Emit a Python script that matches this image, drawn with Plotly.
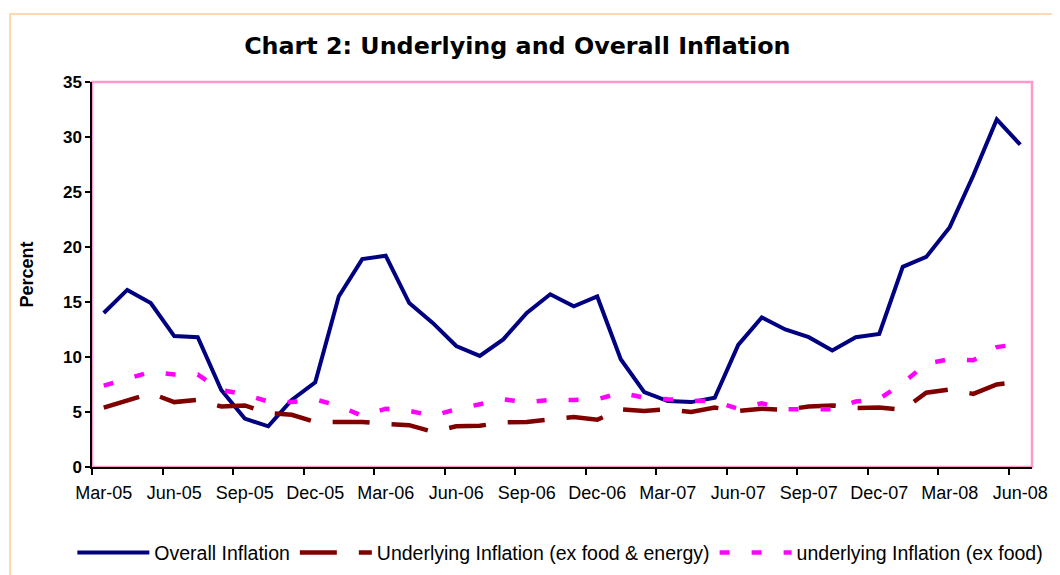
import plotly.graph_objects as go

months = ["Mar-05", "Apr-05", "May-05", "Jun-05", "Jul-05", "Aug-05", "Sep-05", "Oct-05", "Nov-05", "Dec-05",
          "Jan-06", "Feb-06", "Mar-06", "Apr-06", "May-06", "Jun-06", "Jul-06", "Aug-06", "Sep-06", "Oct-06",
          "Nov-06", "Dec-06", "Jan-07", "Feb-07", "Mar-07", "Apr-07", "May-07", "Jun-07", "Jul-07", "Aug-07",
          "Sep-07", "Oct-07", "Nov-07", "Dec-07", "Jan-08", "Feb-08", "Mar-08", "Apr-08", "May-08", "Jun-08"]

overall = [14.0, 16.1, 14.9, 11.9, 11.8, 7.0, 4.4, 3.7, 6.1, 7.7,
           15.5, 18.9, 19.2, 14.9, 13.1, 11.0, 10.1, 11.6, 14.0, 15.7,
           14.6, 15.5, 9.8, 6.8, 6.0, 5.9, 6.3, 11.1, 13.6, 12.5,
           11.8, 10.6, 11.8, 12.1, 18.2, 19.1, 21.8, 26.5, 31.6, 29.3]

underlying_ex_food_energy = [5.4, 6.1, 6.7, 5.9, 6.1, 5.5, 5.6, 4.9, 4.75, 4.1,
                             4.1, 4.1, 3.9, 3.8, 3.2, 3.7, 3.75, 4.05, 4.1, 4.3,
                             4.55, 4.3, 5.25, 5.1, 5.25, 5.0, 5.4, 5.1, 5.3, 5.2,
                             5.5, 5.6, 5.35, 5.4, 5.2, 6.75, 7.05, 6.65, 7.5, 7.75]

underlying_ex_food = [7.4, 8.0, 8.65, 8.4, 8.4, 7.0, 6.6, 5.95, 5.9, 6.15,
                      5.55, 4.65, 5.3, 5.1, 4.65, 5.25, 5.7, 6.15, 5.9, 6.1,
                      6.1, 6.15, 6.75, 6.3, 6.15, 6.1, 5.95, 5.3, 5.8, 5.25,
                      5.25, 5.25, 5.95, 6.2, 7.6, 9.4, 9.8, 9.7, 10.9, 11.2]

series_names = ["Overall Inflation",
                "Underlying Inflation (ex food & energy)",
                "underlying Inflation (ex food)"]

title_text = "Chart 2: Underlying and Overall Inflation"
y_title = "Percent"

idx = list(range(len(months)))
label_idx = idx[::3]
label_text = [months[i] for i in label_idx]
boundary_ticks = [i - 0.5 for i in label_idx]

fig = go.Figure()
fig.add_trace(go.Scatter(x=idx, y=overall, mode="lines", name=series_names[0],
                         line=dict(color="#000080", width=4)))
fig.add_trace(go.Scatter(x=idx, y=underlying_ex_food_energy, mode="lines", name=series_names[1],
                         line=dict(color="#800000", width=4.5, dash="37px,22px")))
fig.add_trace(go.Scatter(x=idx, y=underlying_ex_food, mode="lines", name=series_names[2],
                         line=dict(color="#FF00FF", width=4.5, dash="10px,22px")))

fig.update_layout(
    width=1060, height=575,
    margin=dict(l=84, r=36, t=74, b=116, autoexpand=False),
    paper_bgcolor="white", plot_bgcolor="white",
    title=dict(text="<b>" + title_text + "</b>", x=0.4805, xanchor="center", y=0.935, yanchor="middle",
               font=dict(family="DejaVu Sans", size=23.8, color="black")),
    showlegend=True,
    legend=dict(orientation="h", x=-0.0209, xanchor="left", y=-0.223, yanchor="middle",
                font=dict(family="Liberation Sans, Arial", size=19.5, color="black"),
                itemwidth=72, bgcolor="rgba(0,0,0,0)", traceorder="normal"),
    xaxis=dict(range=[-0.5, len(months) - 0.5], tickmode="array", tickvals=label_idx, ticktext=label_text,
               ticks="outside", ticklen=9, tickcolor="rgba(0,0,0,0)", automargin=False,
               showline=True, linecolor="black", linewidth=1.5, showgrid=False, zeroline=False,
               tickfont=dict(family="Liberation Sans, Arial", size=18, color="black"),
               minor=dict(tickmode="array", tickvals=boundary_ticks, ticks="outside", ticklen=6,
                          tickcolor="black", tickwidth=1.5, showgrid=False)),
    yaxis=dict(range=[0, 35], dtick=5, ticks="outside", ticklen=5, tickcolor="black", tickwidth=1.5,
               automargin=False,
               showline=True, linecolor="black", linewidth=1.5, showgrid=False, zeroline=False,
               tickfont=dict(family="Liberation Sans, Arial", size=17, color="black", weight="bold"),
               title=dict(text="<b>" + y_title + "</b>", standoff=25,
                          font=dict(family="Liberation Sans, Arial", size=18, color="black"))),
    shapes=[
        dict(type="rect", xref="paper", yref="paper", x0=0, x1=1, y0=0, y1=1,
             line=dict(color="#FF99CC", width=2.5), layer="below"),
        dict(type="rect", xref="paper", yref="paper", x0=-0.0872, x1=1.045, y0=-0.31, y1=1.1766,
             line=dict(color="#FFCC99", width=1.5), layer="below"),
    ],
)

fig.write_html("out.html")
